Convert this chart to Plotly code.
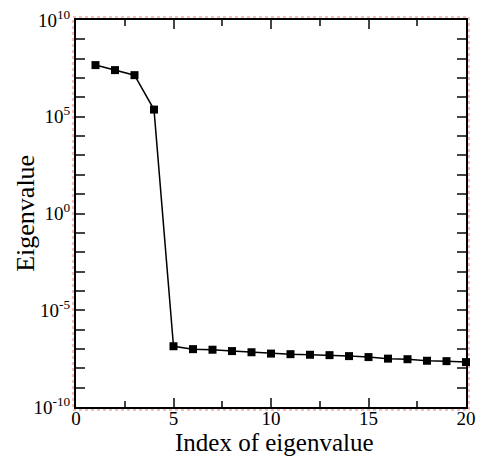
import plotly.graph_objects as go

index = list(range(1, 21))
eigenvalue = [10**7.67, 10**7.41, 10**7.15, 10**5.37, 10**-6.86, 10**-7.01, 10**-7.04,
              10**-7.11, 10**-7.17, 10**-7.24, 10**-7.27, 10**-7.30, 10**-7.32, 10**-7.37,
              10**-7.42, 10**-7.50, 10**-7.53, 10**-7.61, 10**-7.63, 10**-7.68]
y_tickvals = [1e-10, 1e-5, 1, 1e5, 1e10]
y_ticktext = ["10<sup>-10</sup>", "10<sup>-5</sup>", "10<sup>0</sup>", "10<sup>5</sup>", "10<sup>10</sup>"]
x_tickvals = [0, 5, 10, 15, 20]

fig = go.Figure()
fig.add_trace(go.Scatter(x=index, y=eigenvalue, mode="lines+markers",
                         line=dict(color="black", width=1.5),
                         marker=dict(symbol="square", size=8, color="black"),
                         cliponaxis=False))

font = "Liberation Serif"
fig.update_layout(
    width=477, height=457,
    margin=dict(l=76, r=11, t=20, b=50),
    paper_bgcolor="white", plot_bgcolor="white",
    showlegend=False,
    font=dict(family=font, color="black", size=19),
    xaxis=dict(range=[0, 20], tickvals=x_tickvals, ticks="inside", ticklen=9, tickwidth=1.5,
               showline=True, linewidth=2, linecolor="black", mirror="allticks",
               showgrid=False, zeroline=False, automargin=False, ticklabelstandoff=-7,
               minor=dict(tickvals=[2.5, 7.5, 12.5, 17.5], ticks="inside", ticklen=6, tickwidth=1.5),
               tickfont=dict(family=font, size=19)),
    yaxis=dict(type="log", range=[-10, 10], tickvals=y_tickvals, ticktext=y_ticktext,
               ticks="inside", ticklen=9, tickwidth=1.5,
               showline=True, linewidth=2, linecolor="black", mirror="allticks",
               showgrid=False, zeroline=False, automargin=False,
               minor=dict(tickvals=[10**k for k in range(-10, 11)], ticks="inside", ticklen=9, tickwidth=1.5),
               tickfont=dict(family=font, size=19)),
)
fig.add_annotation(text="Index of eigenvalue", xref="paper", yref="paper", x=0.51, y=-0.093,
                   xanchor="center", yanchor="middle", showarrow=False,
                   font=dict(family=font, size=25, color="black"))
fig.add_annotation(text="Eigenvalue", xref="paper", yref="paper", x=-0.13, y=0.5,
                   xanchor="center", yanchor="middle", showarrow=False, textangle=-90,
                   font=dict(family=font, size=26, color="black"))
fig.add_shape(type="rect", xref="paper", yref="paper",
              x0=-3/390, x1=1+3/390, y0=-3/387, y1=1+3/387,
              line=dict(color="#f4a6a6", width=1.5, dash="dot"), layer="below")
fig.write_html("out.html", config={"displayModeBar": False},
               post_script="document.body.style.margin='0';document.body.style.padding='0';")
